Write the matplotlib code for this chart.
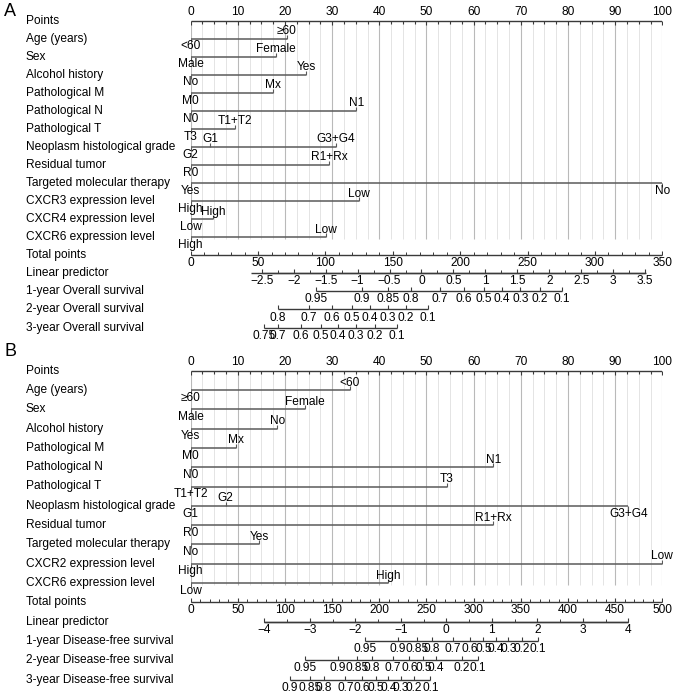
import matplotlib
matplotlib.use('Agg')
import matplotlib.pyplot as plt
import matplotlib.transforms as mtransforms
from matplotlib.markers import TICKUP, TICKDOWN
import numpy as np

plt.rcParams['font.family'] = ['Liberation Sans', 'DejaVu Sans']

# ---------------- Panel A data ----------------
A_vars = ["Age (years)", "Sex", "Alcohol history", "Pathological M", "Pathological N",
          "Pathological T", "Neoplasm histological grade", "Residual tumor",
          "Targeted molecular therapy", "CXCR3 expression level",
          "CXCR4 expression level", "CXCR6 expression level"]
A_levels = [["<60", "≥60"], ["Male", "Female"], ["No", "Yes"], ["M0", "Mx"], ["N0", "N1"],
            ["T3", "T1+T2"], ["G2", "G1", "G3+G4"], ["R0", "R1+Rx"], ["Yes", "No"],
            ["High", "Low"], ["Low", "High"], ["High", "Low"]]
A_points = [[0, 20.4], [0, 18.1], [0, 24.5], [0, 17.4], [0, 35.1], [0, 9.3],
            [0, 4.1, 30.8], [0, 29.4], [0, 100], [0, 35.7], [0, 4.7], [0, 28.6]]
A_total_max = 350
A_total_ticks = list(range(0, 351, 50))
A_lp_ticks = [-2.5, -2, -1.5, -1, -0.5, 0, 0.5, 1, 1.5, 2, 2.5, 3, 3.5]
A_lp_labels = ["\u22122.5", "\u22122", "\u22121.5", "\u22121", "\u22120.5", "0", "0.5", "1",
               "1.5", "2", "2.5", "3", "3.5"]
A_lp_range = [-2.67, 3.52]
A_lp_ref_tp = [52.7, 337.3]          # total points at lp = -2.5 and lp = 3.5
A_surv_names = ["1-year Overall survival", "2-year Overall survival", "3-year Overall survival"]
A_surv_labels = [["0.95", "0.9", "0.85", "0.8", "0.7", "0.6", "0.5", "0.4", "0.3", "0.2", "0.1"],
                 ["0.8", "0.7", "0.6", "0.5", "0.4", "0.3", "0.2", "0.1"],
                 ["0.75", "0.7", "0.6", "0.5", "0.4", "0.3", "0.2", "0.1"]]
A_surv_tp = [[93.0, 126.8, 146.5, 163.2, 185.1, 203.0, 217.8, 231.2, 244.6, 259.0, 275.7],
             [64.8, 87.9, 104.9, 119.8, 133.2, 146.5, 159.9, 175.8],
             [54.4, 64.8, 82.0, 96.4, 109.4, 122.4, 136.5, 153.2]]

# ---------------- Panel B data ----------------
B_vars = ["Age (years)", "Sex", "Alcohol history", "Pathological M", "Pathological N",
          "Pathological T", "Neoplasm histological grade", "Residual tumor",
          "Targeted molecular therapy", "CXCR2 expression level", "CXCR6 expression level"]
B_levels = [["≥60", "<60"], ["Male", "Female"], ["Yes", "No"], ["M0", "Mx"], ["N0", "N1"],
            ["T1+T2", "T3"], ["G1", "G2", "G3+G4"], ["R0", "R1+Rx"], ["No", "Yes"],
            ["High", "Low"], ["Low", "High"]]
B_points = [[0, 33.7], [0, 24.3], [0, 18.4], [0, 9.5], [0, 64.2], [0, 54.3],
            [0, 7.4, 92.8], [0, 64.2], [0, 14.5], [0, 100], [0, 41.9]]
B_total_max = 500
B_total_ticks = list(range(0, 501, 50))
B_lp_ticks = [-4, -3, -2, -1, 0, 1, 2, 3, 4]
B_lp_labels = ["\u22124", "\u22123", "\u22122", "\u22121", "0", "1", "2", "3", "4"]
B_lp_range = [-4, 4]
B_lp_ref_tp = [78.0, 464.0]          # total points at lp = -4 and lp = 4
B_surv_names = ["1-year Disease-free survival", "2-year Disease-free survival",
                "3-year Disease-free survival"]
B_surv_labels = [["0.95", "0.9", "0.85", "0.8", "0.7", "0.6", "0.5", "0.4", "0.3", "0.2", "0.1"],
                 ["0.95", "0.9", "0.85", "0.8", "0.7", "0.6", "0.5", "0.4", "0.2", "0.1"],
                 ["0.9", "0.85", "0.8", "0.7", "0.6", "0.5", "0.4", "0.3", "0.2", "0.1"]]
B_surv_tp = [[184.8, 219.5, 240.4, 255.7, 278.3, 295.6, 310.3, 323.8, 336.9, 351.0, 368.2],
             [121.2, 155.7, 176.6, 192.0, 214.6, 231.9, 246.6, 260.1, 287.3, 304.6],
             [105.3, 126.2, 141.4, 164.1, 181.4, 196.1, 209.6, 222.8, 236.9, 254.0]]

# ---------------- styling ----------------
W, H = 677, 695
FS = 8.6
AX_COL = '#3a3a3a'
VAR_COL = '#5a5a5a'
GRID_MAJ = '#b9b9b9'
GRID_MIN = '#e4e4e4'
A_BELOW = {(8, 1)}      # level labels drawn under the line although not at 0
B_BELOW = {(6, 2)}

fig = plt.figure(figsize=(W / 100, H / 100), dpi=100)


def px_axes(x0, x1, ytop, ybot):
    return fig.add_axes([x0 / W, 1 - ybot / H, (x1 - x0) / W, (ybot - ytop) / H])


def draw_panel(ax, letter, letter_y, vars_, levels, points, below, total_max, total_ticks,
               lp_ticks, lp_labels, lp_range, lp_ref_tp, lp_minor_step,
               surv_names, surv_labels, surv_tp):
    n = len(vars_)
    nrows = n + 6
    ax.set_xlim(0, 100)
    ax.set_ylim(nrows - 0.5, -0.5)
    ax.axis('off')
    tr_lab = mtransforms.blended_transform_factory(fig.transFigure, ax.transData)

    # grid
    for g in np.arange(0, 100.01, 2.5):
        major = abs(g % 10) < 1e-6
        ax.vlines(g, 0, n + 0.12, color=GRID_MAJ if major else GRID_MIN,
                  lw=0.8 if major else 0.7, zorder=0)

    # Points axis
    ax.hlines(0, 0, 100, color=AX_COL, lw=1.0, zorder=3)
    for t in np.arange(0, 100.01, 2.5):
        major = abs(t % 10) < 1e-6
        ax.plot(t, 0, marker=TICKDOWN, ms=3.2 if major else 2.2, mew=0.8,
                color=AX_COL, zorder=3)
    for t in range(0, 101, 10):
        ax.annotate(str(t), (t, 0), xytext=(0, 6), textcoords='offset points',
                    ha='center', va='center', fontsize=FS)

    # variable rows
    for i, (levs, pts) in enumerate(zip(levels, points)):
        r = i + 1
        ax.hlines(r, min(pts), max(pts), color=VAR_COL, lw=1.1, zorder=3)
        for j, (lv, p) in enumerate(zip(levs, pts)):
            is_below = (p == 0) or ((i, j) in below)
            ax.plot(p, r, marker=TICKDOWN if is_below else TICKUP, ms=3.0, mew=0.8,
                    color=VAR_COL, zorder=3)
            ax.annotate(lv, (p, r), xytext=(0, -5.6 if is_below else 5.4),
                        textcoords='offset points', ha='center', va='center', fontsize=FS)

    scale = 100.0 / total_max

    def bottom_axis(row, xs, labels, minor_xs=()):
        ax.hlines(row, min(xs), max(xs), color=AX_COL, lw=1.0, zorder=3)
        for x in minor_xs:
            ax.plot(x, row, marker=TICKUP, ms=2.0, mew=0.7, color=AX_COL, zorder=3)
        for x, lab in zip(xs, labels):
            ax.plot(x, row, marker=TICKUP, ms=3.0, mew=0.8, color=AX_COL, zorder=3)
            ax.annotate(lab, (x, row), xytext=(0, -5.8), textcoords='offset points',
                        ha='center', va='center', fontsize=FS)

    # Total points
    r_tot = n + 1
    tot_minor = [t * scale for t in range(0, total_max + 1, 10)]
    bottom_axis(r_tot, [t * scale for t in total_ticks], [str(t) for t in total_ticks], tot_minor)

    # Linear predictor (linear axis anchored on two labelled ticks)
    r_lp = n + 2
    l0, l1 = lp_ticks[0], lp_ticks[-1]
    k = (lp_ref_tp[1] - lp_ref_tp[0]) / (l1 - l0)

    def lp_to_x(v):
        return (lp_ref_tp[0] + (v - l0) * k) * scale

    ax.hlines(r_lp, lp_to_x(lp_range[0]), lp_to_x(lp_range[1]), color=AX_COL, lw=1.0, zorder=3)
    lp_minor = [lp_to_x(v) for v in np.arange(l0, l1 + 1e-9, lp_minor_step)]
    bottom_axis(r_lp, [lp_to_x(v) for v in lp_ticks], lp_labels, lp_minor)

    # survival axes
    for s, (labs, tps) in enumerate(zip(surv_labels, surv_tp)):
        bottom_axis(n + 3 + s, [t * scale for t in tps], labs)

    # row labels
    row_names = ["Points"] + vars_ + ["Total points", "Linear predictor"] + surv_names
    for r, name in enumerate(row_names):
        ax.text(26 / W, r, name, transform=tr_lab, ha='left', va='center', fontsize=FS)

    fig.text(4 / W, 1 - letter_y / H, letter, ha='left', va='center', fontsize=13)


# Panel A: rows from y=20 px, spacing 18.06 px ; Panel B: rows from y=370.7 px, spacing 19.3 px
sa, ya0 = 18.06, 20.5
axA = px_axes(190.7, 662.3, ya0 - sa / 2, ya0 + sa * 17.5)
draw_panel(axA, "A", 11, A_vars, A_levels, A_points, A_BELOW, A_total_max, A_total_ticks,
           A_lp_ticks, A_lp_labels, A_lp_range, A_lp_ref_tp, 0.25,
           A_surv_names, A_surv_labels, A_surv_tp)

sb, yb0 = 19.3, 370.7
axB = px_axes(190.7, 662.3, yb0 - sb / 2, yb0 + sb * 16.5)
draw_panel(axB, "B", 352, B_vars, B_levels, B_points, B_BELOW, B_total_max, B_total_ticks,
           B_lp_ticks, B_lp_labels, B_lp_range, B_lp_ref_tp, 0.5,
           B_surv_names, B_surv_labels, B_surv_tp)

fig.savefig("out.png", dpi=100)
